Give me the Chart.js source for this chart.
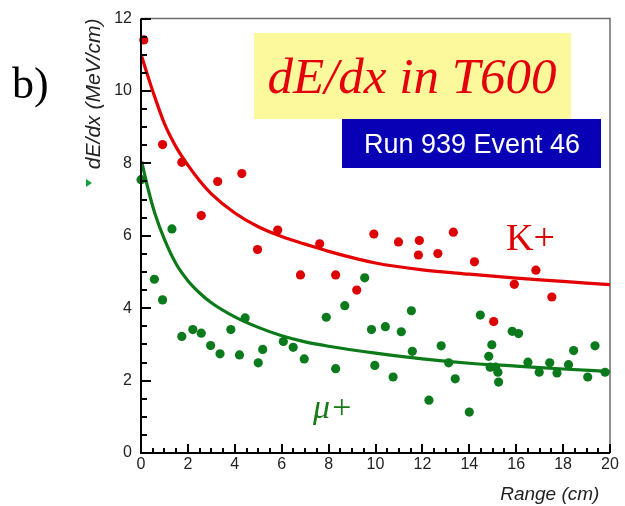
<!DOCTYPE html>
<html>
<head>
<meta charset="utf-8">
<script src="https://cdn.jsdelivr.net/npm/chart.js@4/dist/chart.umd.min.js"></script>
<style>
  html, body { margin: 0; padding: 0; background: #ffffff; }
  #wrap { width: 625px; height: 506px; }
</style>
</head>
<body>
<div id="wrap"><canvas id="c" width="625" height="506"></canvas></div>
<script>
// ---- data ----
const kaonX = [0.12, 0.92, 1.74, 2.57, 3.27, 4.3, 4.97, 5.83, 6.8, 7.62, 8.3, 9.2, 9.93, 10.98, 11.87, 11.83, 12.66, 13.32, 14.22, 15.04, 15.92, 16.84, 17.52];
const kaonY = [11.41, 8.52, 8.03, 6.56, 7.5, 7.72, 5.62, 6.16, 4.92, 5.78, 4.92, 4.5, 6.05, 5.83, 5.87, 5.47, 5.51, 6.1, 5.28, 3.63, 4.66, 5.05, 4.31];

const muonX = [0.0, 1.32, 0.57, 0.92, 1.74, 2.21, 2.57, 2.97, 3.37, 3.83, 4.44, 4.2, 5.0, 5.19, 6.07, 6.49, 6.96, 7.9, 8.3, 8.69, 9.54, 9.83, 9.97, 10.42, 11.1, 11.53, 11.57, 10.75, 12.8, 13.12, 13.4, 12.28, 14.0, 14.47, 14.83, 14.96, 14.89, 15.12, 15.22, 15.25, 15.83, 16.1, 16.5, 16.98, 17.43, 17.74, 18.23, 18.45, 19.05, 19.36, 19.79];
const muonY = [7.55, 6.19, 4.8, 4.23, 3.22, 3.41, 3.31, 2.97, 2.74, 3.41, 3.73, 2.71, 2.49, 2.86, 3.08, 2.92, 2.6, 3.75, 2.33, 4.07, 4.84, 3.41, 2.42, 3.49, 3.35, 3.93, 2.81, 2.1, 2.96, 2.49, 2.05, 1.46, 1.13, 3.81, 2.67, 2.99, 2.37, 2.37, 2.23, 1.96, 3.36, 3.3, 2.51, 2.23, 2.49, 2.21, 2.44, 2.83, 2.1, 2.96, 2.23];

const kaonFitX = [0.03, 0.5, 1, 1.5, 2, 2.5, 3, 4, 5, 6, 7, 8, 10, 12, 14, 16, 18, 20];
const kaonFitY = [10.95, 10.0, 9.1, 8.45, 7.95, 7.52, 7.16, 6.63, 6.25, 5.98, 5.77, 5.57, 5.25, 5.06, 4.94, 4.83, 4.74, 4.65];

const muonFitX = [0.03, 0.3, 0.6, 1, 1.5, 2, 2.5, 3, 4, 5, 6, 7, 8, 10, 12, 14, 16, 18, 20];
const muonFitY = [8.05, 7.3, 6.6, 5.9, 5.22, 4.76, 4.42, 4.15, 3.76, 3.47, 3.24, 3.07, 2.95, 2.76, 2.6, 2.48, 2.4, 2.32, 2.25];

const xRange = [0, 20];
const yRange = [0, 12];
const tickStep = 2;
const minorStep = 0.5;

const labels = {
  panel: 'b)',
  title: 'dE/dx in T600',
  run: 'Run 939 Event 46',
  kaon: 'K+',
  muon: '\u03BC+',
  xTitle: 'Range (cm)',
  yTitle: 'dE/dx (MeV/cm)'
};

// ---- build datasets ----
const pts = (xs, ys) => xs.map((v, i) => ({ x: v, y: ys[i] }));

const RED = '#dc0000';
const GREEN = '#0b7a1c';

const deco = {
  id: 'deco',
  beforeDatasetsDraw(chart) {
    const { ctx, chartArea: a } = chart;
    ctx.save();
    // grey top/right frame
    ctx.strokeStyle = '#6c6c6c';
    ctx.lineWidth = 1.5;
    ctx.beginPath();
    ctx.moveTo(a.left, a.top);
    ctx.lineTo(a.right, a.top);
    ctx.lineTo(a.right, a.bottom);
    ctx.stroke();

    // title box
    ctx.fillStyle = '#fcf99c';
    ctx.fillRect(254, 33, 317, 86);
    ctx.fillStyle = '#e4000c';
    ctx.font = "italic 51px 'Liberation Serif', serif";
    ctx.textAlign = 'center';
    ctx.textBaseline = 'alphabetic';
    ctx.fillText(labels.title, 412, 93);

    // run box
    ctx.fillStyle = '#0800b4';
    ctx.fillRect(342, 119, 259, 49);
    ctx.fillStyle = '#ffffff';
    ctx.font = "27px 'Liberation Sans', sans-serif";
    ctx.fillText(labels.run, 472, 153);

    // particle labels
    ctx.textAlign = 'left';
    ctx.fillStyle = RED;
    ctx.font = "38px 'Liberation Serif', serif";
    ctx.fillText(labels.kaon, 506, 250);
    ctx.fillStyle = '#187a18';
    ctx.font = "italic 34px 'Liberation Serif', serif";
    ctx.fillText(labels.muon, 313, 418);
    ctx.restore();
  },
  afterDraw(chart) {
    const { ctx, chartArea: a, scales: { x, y } } = chart;
    ctx.save();
    // panel label
    ctx.fillStyle = '#000';
    ctx.font = "44px 'Liberation Serif', serif";
    ctx.textAlign = 'left';
    ctx.textBaseline = 'alphabetic';
    ctx.fillText(labels.panel, 12, 98);

    // small green marker left of axis
    ctx.fillStyle = '#12a040';
    ctx.beginPath();
    ctx.moveTo(86, 179);
    ctx.lineTo(92, 183);
    ctx.lineTo(86, 187);
    ctx.closePath();
    ctx.fill();

    // axes
    ctx.strokeStyle = '#000';
    ctx.lineWidth = 2;
    ctx.beginPath();
    ctx.moveTo(a.left, a.top);
    ctx.lineTo(a.left, a.bottom);
    ctx.lineTo(a.right, a.bottom);
    ctx.stroke();

    // inward ticks
    ctx.lineWidth = 2;
    ctx.beginPath();
    for (let v = xRange[0] + minorStep; v <= xRange[1] + 1e-9; v += minorStep) {
      const px = Math.round(x.getPixelForValue(v));
      const len = Math.abs(v % tickStep) < 1e-9 ? 9 : 5;
      ctx.moveTo(px, a.bottom);
      ctx.lineTo(px, a.bottom - len);
    }
    for (let v = yRange[0] + minorStep; v <= yRange[1] + 1e-9; v += minorStep) {
      const py = Math.round(y.getPixelForValue(v));
      const len = Math.abs(v % tickStep) < 1e-9 ? 10 : 6;
      ctx.moveTo(a.left, py);
      ctx.lineTo(a.left + len, py);
    }
    ctx.stroke();
    ctx.restore();
  }
};

new Chart(document.getElementById('c'), {
  type: 'scatter',
  data: {
    datasets: [
      { label: 'K+ fit', data: pts(kaonFitX, kaonFitY), showLine: true, pointRadius: 0,
        borderColor: '#e40000', borderWidth: 3.2, cubicInterpolationMode: 'monotone', order: 3 },
      { label: 'mu+ fit', data: pts(muonFitX, muonFitY), showLine: true, pointRadius: 0,
        borderColor: '#0d7a1a', borderWidth: 3.2, cubicInterpolationMode: 'monotone', order: 4 },
      { label: 'K+', data: pts(kaonX, kaonY), pointRadius: 4.6, pointBackgroundColor: RED,
        pointBorderWidth: 0, borderColor: RED, clip: false, order: 1 },
      { label: 'mu+', data: pts(muonX, muonY), pointRadius: 4.6, pointBackgroundColor: GREEN,
        pointBorderWidth: 0, borderColor: GREEN, clip: false, order: 2 }
    ]
  },
  options: {
    responsive: false,
    animation: false,
    layout: { padding: { left: 0, right: 15, top: 16, bottom: 0 } },
    plugins: { legend: { display: false }, tooltip: { enabled: false } },
    scales: {
      x: {
        type: 'linear', min: xRange[0], max: xRange[1],
        grid: { display: false, drawTicks: false },
        border: { display: false },
        ticks: { stepSize: tickStep, padding: 2, color: '#222', maxRotation: 0, autoSkip: false,
          font: { family: "'Liberation Sans', sans-serif", size: 16 } },
        title: { display: true, text: labels.xTitle + '  ', align: 'end', color: '#222',
          font: { family: "'Liberation Sans', sans-serif", size: 19, style: 'italic' },
          padding: { top: 0, bottom: 0 } },
        afterFit(s) { s.height = 53; }
      },
      y: {
        type: 'linear', min: yRange[0], max: yRange[1],
        grid: { display: false, drawTicks: false },
        border: { display: false },
        ticks: { stepSize: tickStep, padding: 9, color: '#222',
          font: { family: "'Liberation Sans', sans-serif", size: 16 } },
        title: { display: true, text: labels.yTitle, align: 'end', color: '#222',
          font: { family: "'Liberation Sans', sans-serif", size: 21, style: 'italic' },
          padding: { top: 82, bottom: 0 } },
        afterFit(s) { s.width = 141; }
      }
    }
  },
  plugins: [deco]
});
</script>
</body>
</html>
